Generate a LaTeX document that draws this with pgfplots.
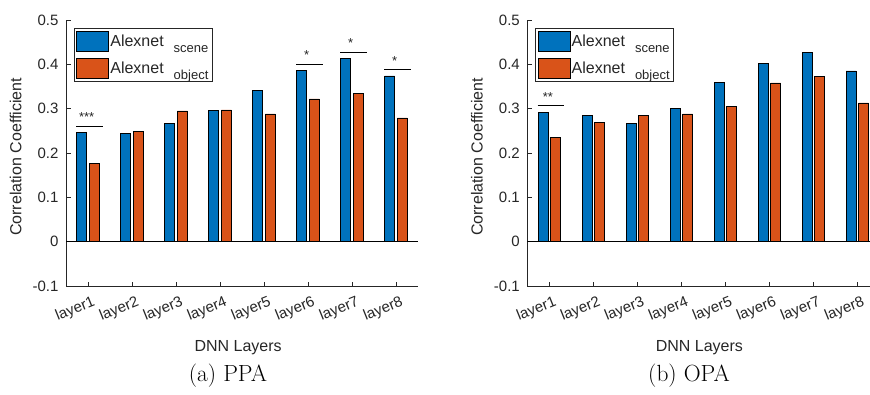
\documentclass[border=0pt]{standalone}
\usepackage{pgfplots}
\pgfplotsset{compat=1.18}
\usepackage{fontspec}
\newfontfamily\arial{Liberation Sans}
\definecolor{mblue}{RGB}{0,114,189}
\definecolor{morange}{RGB}{217,83,25}
\definecolor{mtext}{RGB}{38,38,38}
\tikzset{star/.style={font=\arial\fontsize{13}{13}\selectfont, text=mtext, anchor=base, yshift=4pt}}
\pgfplotsset{
  mystyle/.style={
    scale only axis, width=352pt, height=266pt,
    anchor=south west,
    xmin=0.5, xmax=8.5, ymin=-0.1, ymax=0.5,
    axis x line*=bottom, axis y line*=left,
    axis line style={-, mtext, line width=0.6pt},
    tick align=inside, major tick length=4.5pt,
    tick style={mtext, line width=0.6pt},
    xtick={1,2,3,4,5,6,7,8},
    xticklabels={layer1,layer2,layer3,layer4,layer5,layer6,layer7,layer8},
    ytick={-0.1,0,0.1,0.2,0.3,0.4,0.5},
    yticklabels={-0.1,0,0.1,0.2,0.3,0.4,0.5},
    tick label style={font=\arial\fontsize{15}{15}\selectfont, text=mtext},
    x tick label style={rotate=22, anchor=north east, inner sep=1pt, yshift=-9pt, xshift=1pt},
    y tick label style={anchor=east, xshift=-4pt},
    xlabel={DNN Layers},
    ylabel={Correlation Coefficient},
    label style={font=\arial\fontsize{16}{16}\selectfont, text=mtext},
    x label style={at={(axis description cs:0.489,-0.232)}, anchor=center},
    y label style={at={(axis description cs:-0.143,0.485)}, anchor=center, rotate=0},
    bar width=0.227,
    legend style={at={(axis description cs:0.0227,0.969)}, anchor=north west,
      draw=mtext, line width=0.5pt, fill=white,
      font=\arial\fontsize{16}{16}\selectfont, text=mtext,
      inner xsep=2pt, inner ysep=2.5pt, row sep=7pt,
      nodes={inner xsep=1.5pt, inner ysep=1pt}},
    legend cell align=left,
    legend image code/.code={\draw[#1, draw=black, line width=0.6pt] (0pt,-9.8pt) rectangle (32pt,9.8pt);},
  },
  sc/.style={ybar, fill=mblue, draw=black, line width=0.6pt, bar shift=-0.143},
  ob/.style={ybar, fill=morange, draw=black, line width=0.6pt, bar shift=0.143},
  sig/.style={sharp plot, black, line width=0.6pt, no markers, forget plot},
}
\newcommand{\entry}[1]{Alexnet\raisebox{-6.5pt}{\hspace{10pt}\fontsize{13}{13}\selectfont #1}\hspace{6pt}}
\begin{document}
\begin{tikzpicture}
\path[use as bounding box] (0pt,0pt) rectangle (870pt,394pt);
\clip (0pt,0pt) rectangle (870pt,394pt);
% ---------- (a) PPA ----------
\begin{axis}[mystyle, at={(66pt,108pt)}]
\addplot[sc] coordinates {(1,0.246) (2,0.244) (3,0.267) (4,0.296) (5,0.342) (6,0.386) (7,0.413) (8,0.374)};
\addplot[ob] coordinates {(1,0.176) (2,0.248) (3,0.295) (4,0.297) (5,0.288) (6,0.322) (7,0.334) (8,0.279)};
\legend{\entry{scene},\entry{object}}
\draw[black, line width=0.6pt] (axis cs:0.5,0) -- (axis cs:8.5,0);
\addplot[sig] coordinates {(0.735,0.261) (1.34,0.261)};
\addplot[sig] coordinates {(5.735,0.401) (6.34,0.401)};
\addplot[sig] coordinates {(6.735,0.428) (7.34,0.428)};
\addplot[sig] coordinates {(7.735,0.389) (8.34,0.389)};
\node[star] at (axis cs:0.97,0.261) {***};
\node[star] at (axis cs:5.97,0.401) {*};
\node[star] at (axis cs:6.97,0.428) {*};
\node[star] at (axis cs:7.97,0.389) {*};
\end{axis}
% ---------- (b) OPA ----------
\begin{axis}[mystyle, at={(527.3pt,108pt)}]
\addplot[sc] coordinates {(1,0.291) (2,0.284) (3,0.266) (4,0.300) (5,0.359) (6,0.402) (7,0.427) (8,0.385)};
\addplot[ob] coordinates {(1,0.236) (2,0.269) (3,0.285) (4,0.288) (5,0.306) (6,0.358) (7,0.373) (8,0.313)};
\legend{\entry{scene},\entry{object}}
\draw[black, line width=0.6pt] (axis cs:0.5,0) -- (axis cs:8.5,0);
\addplot[sig] coordinates {(0.735,0.307) (1.34,0.307)};
\node[star] at (axis cs:0.97,0.307) {**};
\end{axis}
% captions
\node[font=\fontsize{23.4}{28}\selectfont] at (228pt,18pt) {(a) PPA};
\node[font=\fontsize{23.4}{28}\selectfont] at (689pt,18pt) {(b) OPA};
\end{tikzpicture}
\end{document}
